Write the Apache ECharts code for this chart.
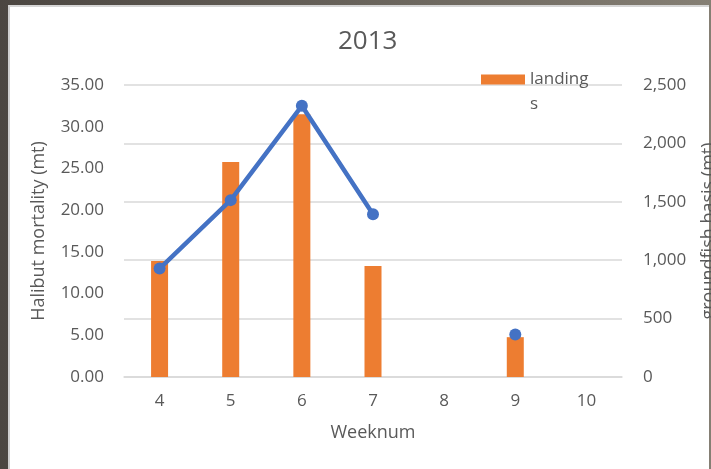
<!DOCTYPE html>
<html>
<head>
<meta charset="utf-8">
<title>2013</title>
<script src="https://cdn.jsdelivr.net/npm/echarts@6/dist/echarts.min.js"></script>
<style>
  body { margin: 0; }
  /* dark frame of the screenshot */
  #frame {
    position: absolute; left: 0; top: 0; width: 711px; height: 469px;
    background: linear-gradient(to right, #4b4641, #857f74);
  }
  #paper {
    position: absolute; left: 8px; top: 5px; width: 701px; height: 464px;
    background: #fff;
    border-left: 2px solid #cfcfcf;
    border-top: 2px solid #d6d6d6;
    box-sizing: border-box;
  }
  #main { position: absolute; left: 0; top: 0; width: 711px; height: 469px; }
</style>
</head>
<body>
<div id="frame"></div>
<div id="paper"></div>
<div id="main"></div>
<script>
// 周次
var weeks = ["4", "5", "6", "7", "8", "9", "10"];
// landings (groundfish basis, mt) - 右轴
var landings = [993, 1840, 2250, 950, null, 341, null];
// Halibut mortality (mt) - 左轴
var halibutMortality = [13.0, 21.2, 32.5, 19.5, null, 5.1, null];

var fontFamily = "'Open Sans', sans-serif";
var textColor = "#595959";

var myChart = echarts.init(document.getElementById("main"));

myChart.setOption({
  backgroundColor: "transparent",
  textStyle: { fontFamily: fontFamily },
  title: {
    text: "2013",
    left: 338,
    top: 29,
    padding: 0,
    textStyle: {
      fontFamily: fontFamily,
      fontSize: 26,
      fontWeight: "normal",
      color: textColor
    }
  },
  legend: {
    data: ["landings"],
    left: 481,
    top: 42,
    padding: 0,
    itemWidth: 44,
    itemHeight: 10,
    icon: "rect",
    // 图例文字折行: 空行 + landing + s, 使 "landing" 与色块对齐
    formatter: function () {
      return "\nlanding\ns";
    },
    textStyle: {
      fontFamily: fontFamily,
      fontSize: 17,
      color: textColor,
      lineHeight: 25
    }
  },
  grid: {
    left: 124,
    right: 89,
    top: 85,
    bottom: 92,
    outerBoundsMode: "none",
    containLabel: false
  },
  xAxis: {
    type: "category",
    data: weeks,
    name: "Weeknum",
    nameLocation: "middle",
    nameGap: 47,
    nameTextStyle: { fontFamily: fontFamily, fontSize: 18, color: textColor },
    axisLine: { lineStyle: { color: "#d9d9d9", width: 1.5 } },
    axisTick: { show: false },
    axisLabel: { fontFamily: fontFamily, fontSize: 17, color: textColor, margin: 16 }
  },
  yAxis: [
    {
      // 左轴 Halibut mortality
      type: "value",
      min: 0,
      max: 35,
      interval: 5,
      name: "Halibut mortality (mt)",
      nameLocation: "middle",
      nameGap: 76,
      nameTextStyle: { fontFamily: fontFamily, fontSize: 18, color: textColor },
      splitLine: { show: false },
      axisLine: { show: false },
      axisTick: { show: false },
      axisLabel: {
        fontFamily: fontFamily,
        fontSize: 17,
        color: textColor,
        margin: 20,
        formatter: function (v) {
          return v.toFixed(2);
        }
      }
    },
    {
      // 右轴 groundfish basis (标题被画布右边缘截断)
      type: "value",
      position: "right",
      min: 0,
      max: 2500,
      interval: 500,
      name: "groundfish basis (mt)",
      nameLocation: "middle",
      nameGap: 78,
      nameTextStyle: { fontFamily: fontFamily, fontSize: 18, color: textColor },
      splitLine: { show: true, lineStyle: { color: "#d9d9d9", width: 1.5 } },
      axisLine: { show: false },
      axisTick: { show: false },
      axisLabel: {
        fontFamily: fontFamily,
        fontSize: 17,
        color: textColor,
        margin: 21,
        formatter: function (v) {
          return v.toLocaleString("en-US");
        }
      }
    }
  ],
  series: [
    {
      name: "landings",
      type: "bar",
      yAxisIndex: 1,
      barWidth: 17,
      itemStyle: { color: "#ed7d31" },
      data: landings
    },
    {
      name: "Halibut mortality",
      type: "line",
      yAxisIndex: 0,
      symbol: "circle",
      symbolSize: 12,
      showAllSymbol: true,
      connectNulls: false,
      lineStyle: { color: "#4472c4", width: 4.5 },
      itemStyle: { color: "#4472c4" },
      data: halibutMortality
    }
  ]
});
</script>
</body>
</html>
